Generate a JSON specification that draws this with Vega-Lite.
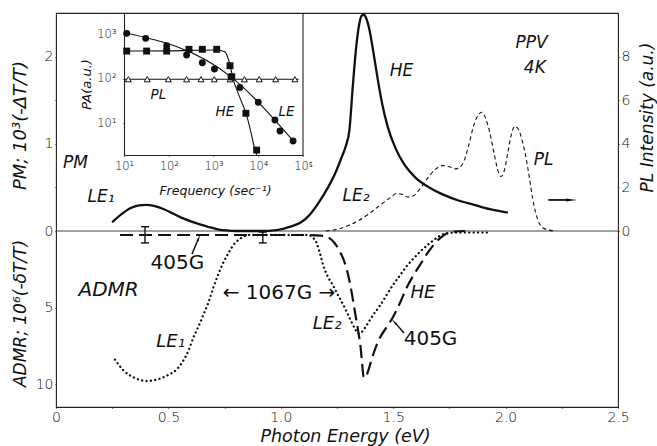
{
  "$schema": "https://vega.github.io/schema/vega-lite/v6.json",
  "width": 562,
  "height": 394,
  "autosize": {"type": "none"},
  "padding": {"left": 56, "top": 13, "right": 39, "bottom": 39},
  "background": "white",
  "config": {
    "view": {"stroke": "#222", "strokeWidth": 1.1},
    "axis": {"grid": false, "domain": false, "zindex": 1, "ticks": true, "tickSize": 1, "labelFont": "DejaVu Sans", "labelFontSize": 14, "labelColor": "#111", "labelFontWeight": 300, "titleFont": "DejaVu Sans", "titleFontStyle": "italic", "titleFontWeight": "normal", "titleColor": "#111", "tickColor": "#111", "tickWidth": 1.2, "labelFlush": false, "labelOverlap": false, "domainColor": "#222", "domainWidth": 1.1},
    "text": {"font": "DejaVu Sans", "fontStyle": "italic", "fontSize": 17, "color": "#111"},
    "line": {"color": "#111"},
    "rule": {"color": "#111"}
  },
  "datasets": {
    "pm": [
      {"e":0.25,"y":0.10},{"e":0.29,"y":0.19},{"e":0.33,"y":0.26},{"e":0.37,"y":0.295},{"e":0.40,"y":0.30},{"e":0.44,"y":0.285},{"e":0.48,"y":0.25},{"e":0.52,"y":0.20},{"e":0.56,"y":0.15},{"e":0.60,"y":0.11},{"e":0.64,"y":0.075},{"e":0.68,"y":0.045},{"e":0.72,"y":0.02},{"e":0.76,"y":0.006},{"e":0.80,"y":0.0},{"e":0.86,"y":0.0},{"e":0.92,"y":0.0},{"e":0.97,"y":0.006},{"e":1.01,"y":0.025},{"e":1.05,"y":0.055},{"e":1.09,"y":0.10},{"e":1.13,"y":0.19},{"e":1.17,"y":0.33},{"e":1.21,"y":0.50},{"e":1.245,"y":0.68},{"e":1.27,"y":0.84},{"e":1.29,"y":0.98},{"e":1.305,"y":1.15},{"e":1.32,"y":1.65},{"e":1.335,"y":2.10},{"e":1.348,"y":2.36},{"e":1.36,"y":2.47},{"e":1.37,"y":2.48},{"e":1.38,"y":2.44},{"e":1.395,"y":2.30},{"e":1.41,"y":2.08},{"e":1.43,"y":1.76},{"e":1.45,"y":1.47},{"e":1.475,"y":1.20},{"e":1.51,"y":0.95},{"e":1.55,"y":0.76},{"e":1.60,"y":0.61},{"e":1.66,"y":0.50},{"e":1.72,"y":0.42},{"e":1.79,"y":0.35},{"e":1.86,"y":0.30},{"e":1.93,"y":0.25},{"e":2.01,"y":0.21}
    ],
    "pl": [
      {"e":1.20,"y":0.0},{"e":1.26,"y":0.1},{"e":1.30,"y":0.25},{"e":1.35,"y":0.5},{"e":1.40,"y":0.85},{"e":1.45,"y":1.25},{"e":1.49,"y":1.55},{"e":1.515,"y":1.72},{"e":1.54,"y":1.68},{"e":1.565,"y":1.56},{"e":1.59,"y":1.62},{"e":1.62,"y":1.95},{"e":1.655,"y":2.45},{"e":1.69,"y":2.85},{"e":1.72,"y":3.0},{"e":1.75,"y":2.95},{"e":1.78,"y":2.85},{"e":1.81,"y":3.1},{"e":1.835,"y":3.9},{"e":1.86,"y":4.9},{"e":1.88,"y":5.35},{"e":1.895,"y":5.45},{"e":1.91,"y":5.2},{"e":1.93,"y":4.5},{"e":1.95,"y":3.5},{"e":1.965,"y":2.8},{"e":1.98,"y":2.5},{"e":1.995,"y":2.8},{"e":2.01,"y":3.6},{"e":2.025,"y":4.4},{"e":2.04,"y":4.8},{"e":2.055,"y":4.7},{"e":2.075,"y":4.1},{"e":2.09,"y":3.4},{"e":2.105,"y":2.5},{"e":2.12,"y":1.5},{"e":2.135,"y":0.8},{"e":2.15,"y":0.35},{"e":2.165,"y":0.15},{"e":2.19,"y":0.05},{"e":2.22,"y":0.0}
    ],
    "d405": [
      {"e":0.285,"y":0.26},{"e":0.5,"y":0.26},{"e":0.7,"y":0.26},{"e":0.9,"y":0.26},{"e":1.10,"y":0.26},{"e":1.16,"y":0.28},{"e":1.19,"y":0.33},{"e":1.215,"y":0.45},{"e":1.24,"y":0.8},{"e":1.263,"y":1.35},{"e":1.28,"y":1.9},{"e":1.295,"y":2.6},{"e":1.31,"y":3.6},{"e":1.33,"y":5.3},{"e":1.345,"y":6.6},{"e":1.355,"y":7.6},{"e":1.362,"y":8.7},{"e":1.368,"y":9.5},{"e":1.375,"y":9.6},{"e":1.385,"y":9.3},{"e":1.40,"y":8.6},{"e":1.415,"y":7.9},{"e":1.44,"y":7.0},{"e":1.47,"y":6.3},{"e":1.50,"y":5.6},{"e":1.53,"y":4.7},{"e":1.56,"y":3.7},{"e":1.59,"y":2.9},{"e":1.62,"y":2.2},{"e":1.65,"y":1.5},{"e":1.68,"y":0.9},{"e":1.71,"y":0.45},{"e":1.74,"y":0.15},{"e":1.77,"y":0.04},{"e":1.82,"y":0.0}
    ],
    "d1067": [
      {"e":0.262,"y":8.4},{"e":0.30,"y":9.1},{"e":0.35,"y":9.6},{"e":0.405,"y":9.8},{"e":0.45,"y":9.7},{"e":0.50,"y":9.4},{"e":0.54,"y":9.0},{"e":0.565,"y":8.5},{"e":0.59,"y":7.8},{"e":0.61,"y":7.0},{"e":0.635,"y":6.2},{"e":0.655,"y":5.5},{"e":0.68,"y":4.6},{"e":0.70,"y":3.7},{"e":0.72,"y":2.9},{"e":0.74,"y":2.2},{"e":0.765,"y":1.5},{"e":0.79,"y":0.9},{"e":0.81,"y":0.6},{"e":0.83,"y":0.4},{"e":0.86,"y":0.26},{"e":1.0,"y":0.26},{"e":1.12,"y":0.26},{"e":1.14,"y":0.4},{"e":1.16,"y":0.8},{"e":1.175,"y":1.5},{"e":1.19,"y":2.3},{"e":1.21,"y":3.0},{"e":1.23,"y":3.5},{"e":1.255,"y":4.2},{"e":1.277,"y":4.8},{"e":1.30,"y":5.5},{"e":1.315,"y":5.95},{"e":1.33,"y":6.4},{"e":1.345,"y":6.7},{"e":1.36,"y":6.6},{"e":1.38,"y":6.2},{"e":1.41,"y":5.5},{"e":1.44,"y":4.9},{"e":1.47,"y":4.2},{"e":1.50,"y":3.5},{"e":1.53,"y":2.9},{"e":1.56,"y":2.3},{"e":1.59,"y":1.8},{"e":1.62,"y":1.35},{"e":1.65,"y":0.95},{"e":1.68,"y":0.6},{"e":1.71,"y":0.3},{"e":1.74,"y":0.15},{"e":1.78,"y":0.1},{"e":1.92,"y":0.1}
    ],
    "errbars": [{"e":0.396,"y":-0.28,"y2":0.78},{"e":0.92,"y":0.07,"y2":0.78}],
    "caps": [{"e":0.396,"y":-0.28},{"e":0.396,"y":0.78},{"e":0.92,"y":0.07},{"e":0.92,"y":0.78}],
    "zero": [{"e":0,"e2":2.5,"y":0}],
    "toparrow": [{"e":2.19,"e2":2.28,"y":0.356}],
    "toparrowhead": [{"e":2.285,"y":0.356}],
    "admrarrows": [{"e":0.605,"e2":0.632,"y":1.5,"y2":0.55},{"e":1.548,"e2":1.51,"y":6.67,"y2":6.02}],
    "head1": [{"e":0.634,"y":0.5}],
    "head2": [{"e":1.507,"y":5.98}],
    "pmtext": [
      {"e":0.087,"y":0.776,"t":"PM"},{"e":0.2,"y":0.39,"t":"LE₁"},{"e":1.537,"y":1.84,"t":"HE"},{"e":2.115,"y":2.155,"t":"PPV"},{"e":2.13,"y":1.868,"t":"4K"},{"e":2.169,"y":0.81,"t":"PL"},{"e":1.335,"y":0.40,"t":"LE₂"}
    ],
    "admrtext": [
      {"e":0.51,"y":7.25,"t":"LE₁"},{"e":1.206,"y":6.1,"t":"LE₂"},{"e":1.632,"y":4.05,"t":"HE"}
    ],
    "admrbig": [{"e":0.234,"y":3.83,"t":"ADMR"}],
    "admrup": [{"e":0.54,"y":2.06,"t":"405G"},{"e":1.666,"y":7.03,"t":"405G"},{"e":0.992,"y":4.08,"t":"← 1067G →"}],
    "fit": [
      {"s":"LE","f":10,"p":1080},{"s":"LE","f":2500,"p":108},{"s":"LE","f":62000,"p":3.9},
      {"s":"PL","f":10,"p":97},{"s":"PL","f":80000,"p":97},
      {"s":"HE","f":10,"p":415},{"s":"HE","f":100,"p":420},{"s":"HE","f":1180,"p":440},{"s":"HE","f":1800,"p":400},{"s":"HE","f":2100,"p":290},{"s":"HE","f":2340,"p":202},{"s":"HE","f":2720,"p":103},{"s":"HE","f":3900,"p":37},{"s":"HE","f":5500,"p":15},{"s":"HE","f":7100,"p":5.4},{"s":"HE","f":8400,"p":2.6},{"s":"HE","f":9300,"p":1.95}
    ],
    "circles": [
      {"f":11.5,"p":1035},{"f":30.5,"p":800},{"f":90,"p":547},{"f":251,"p":338},{"f":563,"p":227},{"f":1050,"p":164},{"f":2460,"p":110},{"f":3900,"p":63},{"f":10000,"p":29.5},{"f":23600,"p":11.8},{"f":30600,"p":6.7},{"f":60000,"p":4.0}
    ],
    "squares": [
      {"f":11.5,"p":415},{"f":32,"p":415},{"f":90,"p":415},{"f":283,"p":454},{"f":563,"p":454},{"f":1180,"p":454},{"f":2340,"p":195},{"f":2560,"p":110},{"f":5300,"p":16.7},{"f":9200,"p":2.5}
    ],
    "triangles": [
      {"f":12.5,"p":97},{"f":33,"p":97},{"f":98,"p":97},{"f":250,"p":97},{"f":525,"p":97},{"f":1040,"p":97},{"f":2350,"p":97},{"f":4900,"p":97},{"f":10500,"p":97},{"f":24500,"p":97},{"f":66000,"p":97}
    ],
    "insetborder": [{"f":100000,"p":1.94,"p2":2960}],
    "insettext": [{"f":58.5,"p":43,"t":"PL"},{"f":1800,"p":18,"t":"HE"},{"f":43000,"p":18,"t":"LE"}]
  },
  "layer": [
    {
      "encoding": {
        "x": {"field": "e", "type": "quantitative",
          "scale": {"domain": [0, 2.5], "nice": false, "zero": false},
          "axis": {"orient": "bottom", "values": [0,0.25,0.5,0.75,1,1.25,1.5,1.75,2,2.25,2.5],
            "labelExpr": "datum.value % 0.5 == 0 ? (datum.value == 0 ? '0' : format(datum.value, '.1f')) : ''",
            "encode": {"ticks": {"update": {"y2": {"signal": "datum.value % 0.5 == 0 ? -12 : -7"}}}},
            "labelPadding": 2, "labelBaseline": "top",
            "title": "Photon Energy (eV)", "titleFontSize": 17.5, "titleX": 289, "titleY": 29, "titleBaseline": "middle", "titleAngle": 0}}
      },
      "layer": [
        {
          "encoding": {"y": {"field": "y", "type": "quantitative",
            "scale": {"domain": [0, 2.5], "range": [218, 0], "nice": false, "zero": false},
            "axis": {"orient": "left", "values": [0.5, 1, 1.5, 2],
              "labelExpr": "datum.value % 1 == 0 ? format(datum.value, 'd') : ''",
              "encode": {"ticks": {"update": {"x2": {"signal": "datum.value % 1 == 0 ? 12 : 8"}}}},
              "labelPadding": 2,
              "title": "PM; 10³(-ΔT/T)", "titleFontSize": 18, "titleX": -36, "titleY": 112, "titleBaseline": "middle", "titleAngle": 270}}},
          "layer": [
            {"data": {"name": "zero"}, "mark": {"type": "rule", "color": "#444", "strokeWidth": 1}, "encoding": {"x2": {"field": "e2"}}},
            {"data": {"name": "pm"}, "mark": {"type": "line", "strokeWidth": 2.3, "interpolate": "monotone"}},
            {"data": {"name": "toparrow"}, "mark": {"type": "rule", "strokeWidth": 1.8}, "encoding": {"x2": {"field": "e2"}}},
            {"data": {"name": "toparrowhead"}, "mark": {"type": "point", "shape": "wedge", "angle": 90, "filled": true, "opacity": 1, "color": "#111", "size": 160}},
            {"data": {"name": "pmtext"}, "mark": {"type": "text"}, "encoding": {"text": {"field": "t"}}}
          ]
        },
        {
          "encoding": {"y": {"field": "y", "type": "quantitative",
            "scale": {"domain": [0, 10], "range": [218, 0], "nice": false, "zero": false},
            "axis": {"orient": "right", "values": [0, 2, 4, 6, 8], "format": "d",
              "encode": {"ticks": {"update": {"x2": {"value": -10}}}},
              "labelPadding": 2,
              "title": "PL Intensity (a.u.)", "titleFontSize": 17, "titleX": 29, "titleY": 104, "titleBaseline": "middle", "titleAngle": 270}}},
          "layer": [
            {"data": {"name": "pl"}, "mark": {"type": "line", "strokeWidth": 1.1, "strokeDash": [4, 3], "interpolate": "monotone"}}
          ]
        },
        {
          "encoding": {"y": {"field": "y", "type": "quantitative",
            "scale": {"domain": [0, 11.5], "range": [218, 394], "nice": false, "zero": false},
            "axis": {"orient": "left", "values": [0, 5, 10], "format": "d",
              "encode": {"ticks": {"update": {"x2": {"value": 10}}}},
              "labelPadding": 2,
              "title": "ADMR; 10⁶(-δT/T)", "titleFontSize": 17, "titleX": -36, "titleY": 300, "titleBaseline": "middle", "titleAngle": 270}}},
          "layer": [
            {"data": {"name": "d405"}, "mark": {"type": "line", "strokeWidth": 2.2, "strokeDash": [13, 6], "interpolate": "monotone"}},
            {"data": {"name": "d1067"}, "mark": {"type": "line", "strokeWidth": 2.3, "strokeDash": [0.1, 4.3], "strokeCap": "round", "interpolate": "monotone"}},
            {"data": {"name": "errbars"}, "mark": {"type": "rule", "strokeWidth": 1.4}, "encoding": {"y2": {"field": "y2"}}},
            {"data": {"name": "caps"}, "mark": {"type": "tick", "orient": "horizontal", "size": 8, "thickness": 1.4, "color": "#111", "opacity": 1}},
            {"data": {"name": "admrarrows"}, "mark": {"type": "rule", "strokeWidth": 1.5}, "encoding": {"x2": {"field": "e2"}, "y2": {"field": "y2"}}},
            {"data": {"name": "head1"}, "mark": {"type": "point", "shape": "wedge", "angle": 22, "filled": true, "opacity": 1, "color": "#111", "size": 70}},
            {"data": {"name": "head2"}, "mark": {"type": "point", "shape": "wedge", "angle": -42, "filled": true, "opacity": 1, "color": "#111", "size": 70}},
            {"data": {"name": "admrtext"}, "mark": {"type": "text", "fontSize": 18}, "encoding": {"text": {"field": "t"}}},
            {"data": {"name": "admrbig"}, "mark": {"type": "text", "fontSize": 20}, "encoding": {"text": {"field": "t"}}},
            {"data": {"name": "admrup"}, "mark": {"type": "text", "fontSize": 20, "fontStyle": "normal", "fontWeight": "normal"}, "encoding": {"text": {"field": "t"}}}
          ]
        }
      ],
      "resolve": {"scale": {"y": "independent"}, "axis": {"y": "independent"}}
    },
    {
      "encoding": {
        "x": {"field": "f", "type": "quantitative",
          "scale": {"type": "log", "domain": [10, 100000], "range": [68, 247], "nice": false},
          "axis": {"orient": "bottom", "offset": -252, "values": [10, 100, 1000, 10000, 100000],
            "labelExpr": "datum.value == 10 ? '10¹' : datum.value == 100 ? '10²' : datum.value == 1000 ? '10³' : datum.value == 10000 ? '10⁴' : '10⁵'",
            "encode": {"ticks": {"update": {"y2": {"value": -5}}}},
            "labelPadding": 4, "labelBaseline": "top", "labelFontSize": 11.5, "domain": true,
            "title": "Frequency (sec⁻¹)", "titleFontSize": 12.5, "titleX": 159, "titleY": 35, "titleBaseline": "middle", "titleAngle": 0}},
        "y": {"field": "p", "type": "quantitative",
          "scale": {"type": "log", "domain": [1.94, 2960], "range": [142, 0], "nice": false},
          "axis": {"orient": "left", "offset": -68, "values": [10, 100, 1000],
            "labelExpr": "datum.value == 10 ? '10¹' : datum.value == 100 ? '10²' : '10³'",
            "encode": {"ticks": {"update": {"x2": {"value": 5}}}},
            "labelPadding": 7, "labelFontSize": 11.5, "domain": true,
            "title": "PA(a.u.)", "titleFontSize": 13, "titleX": -38, "titleY": 71, "titleBaseline": "middle", "titleAngle": 270}}
      },
      "layer": [
        {"data": {"name": "insetborder"}, "mark": {"type": "rule", "strokeWidth": 1.1, "color": "#222"}, "encoding": {"y2": {"field": "p2"}}},
        {"data": {"name": "fit"}, "mark": {"type": "line", "strokeWidth": 1.1, "interpolate": "monotone"}, "encoding": {"detail": {"field": "s"}}},
        {"data": {"name": "triangles"}, "mark": {"type": "point", "shape": "triangle-up", "filled": true, "fill": "white", "stroke": "#111", "strokeWidth": 1, "opacity": 1, "size": 36}},
        {"data": {"name": "circles"}, "mark": {"type": "point", "shape": "circle", "filled": true, "color": "#111", "opacity": 1, "size": 48}},
        {"data": {"name": "squares"}, "mark": {"type": "point", "shape": "square", "filled": true, "color": "#111", "opacity": 1, "size": 48}},
        {"data": {"name": "insettext"}, "mark": {"type": "text", "fontSize": 13.5}, "encoding": {"text": {"field": "t"}}}
      ]
    }
  ],
  "resolve": {"scale": {"x": "independent", "y": "independent"}, "axis": {"x": "independent", "y": "independent"}}
}
